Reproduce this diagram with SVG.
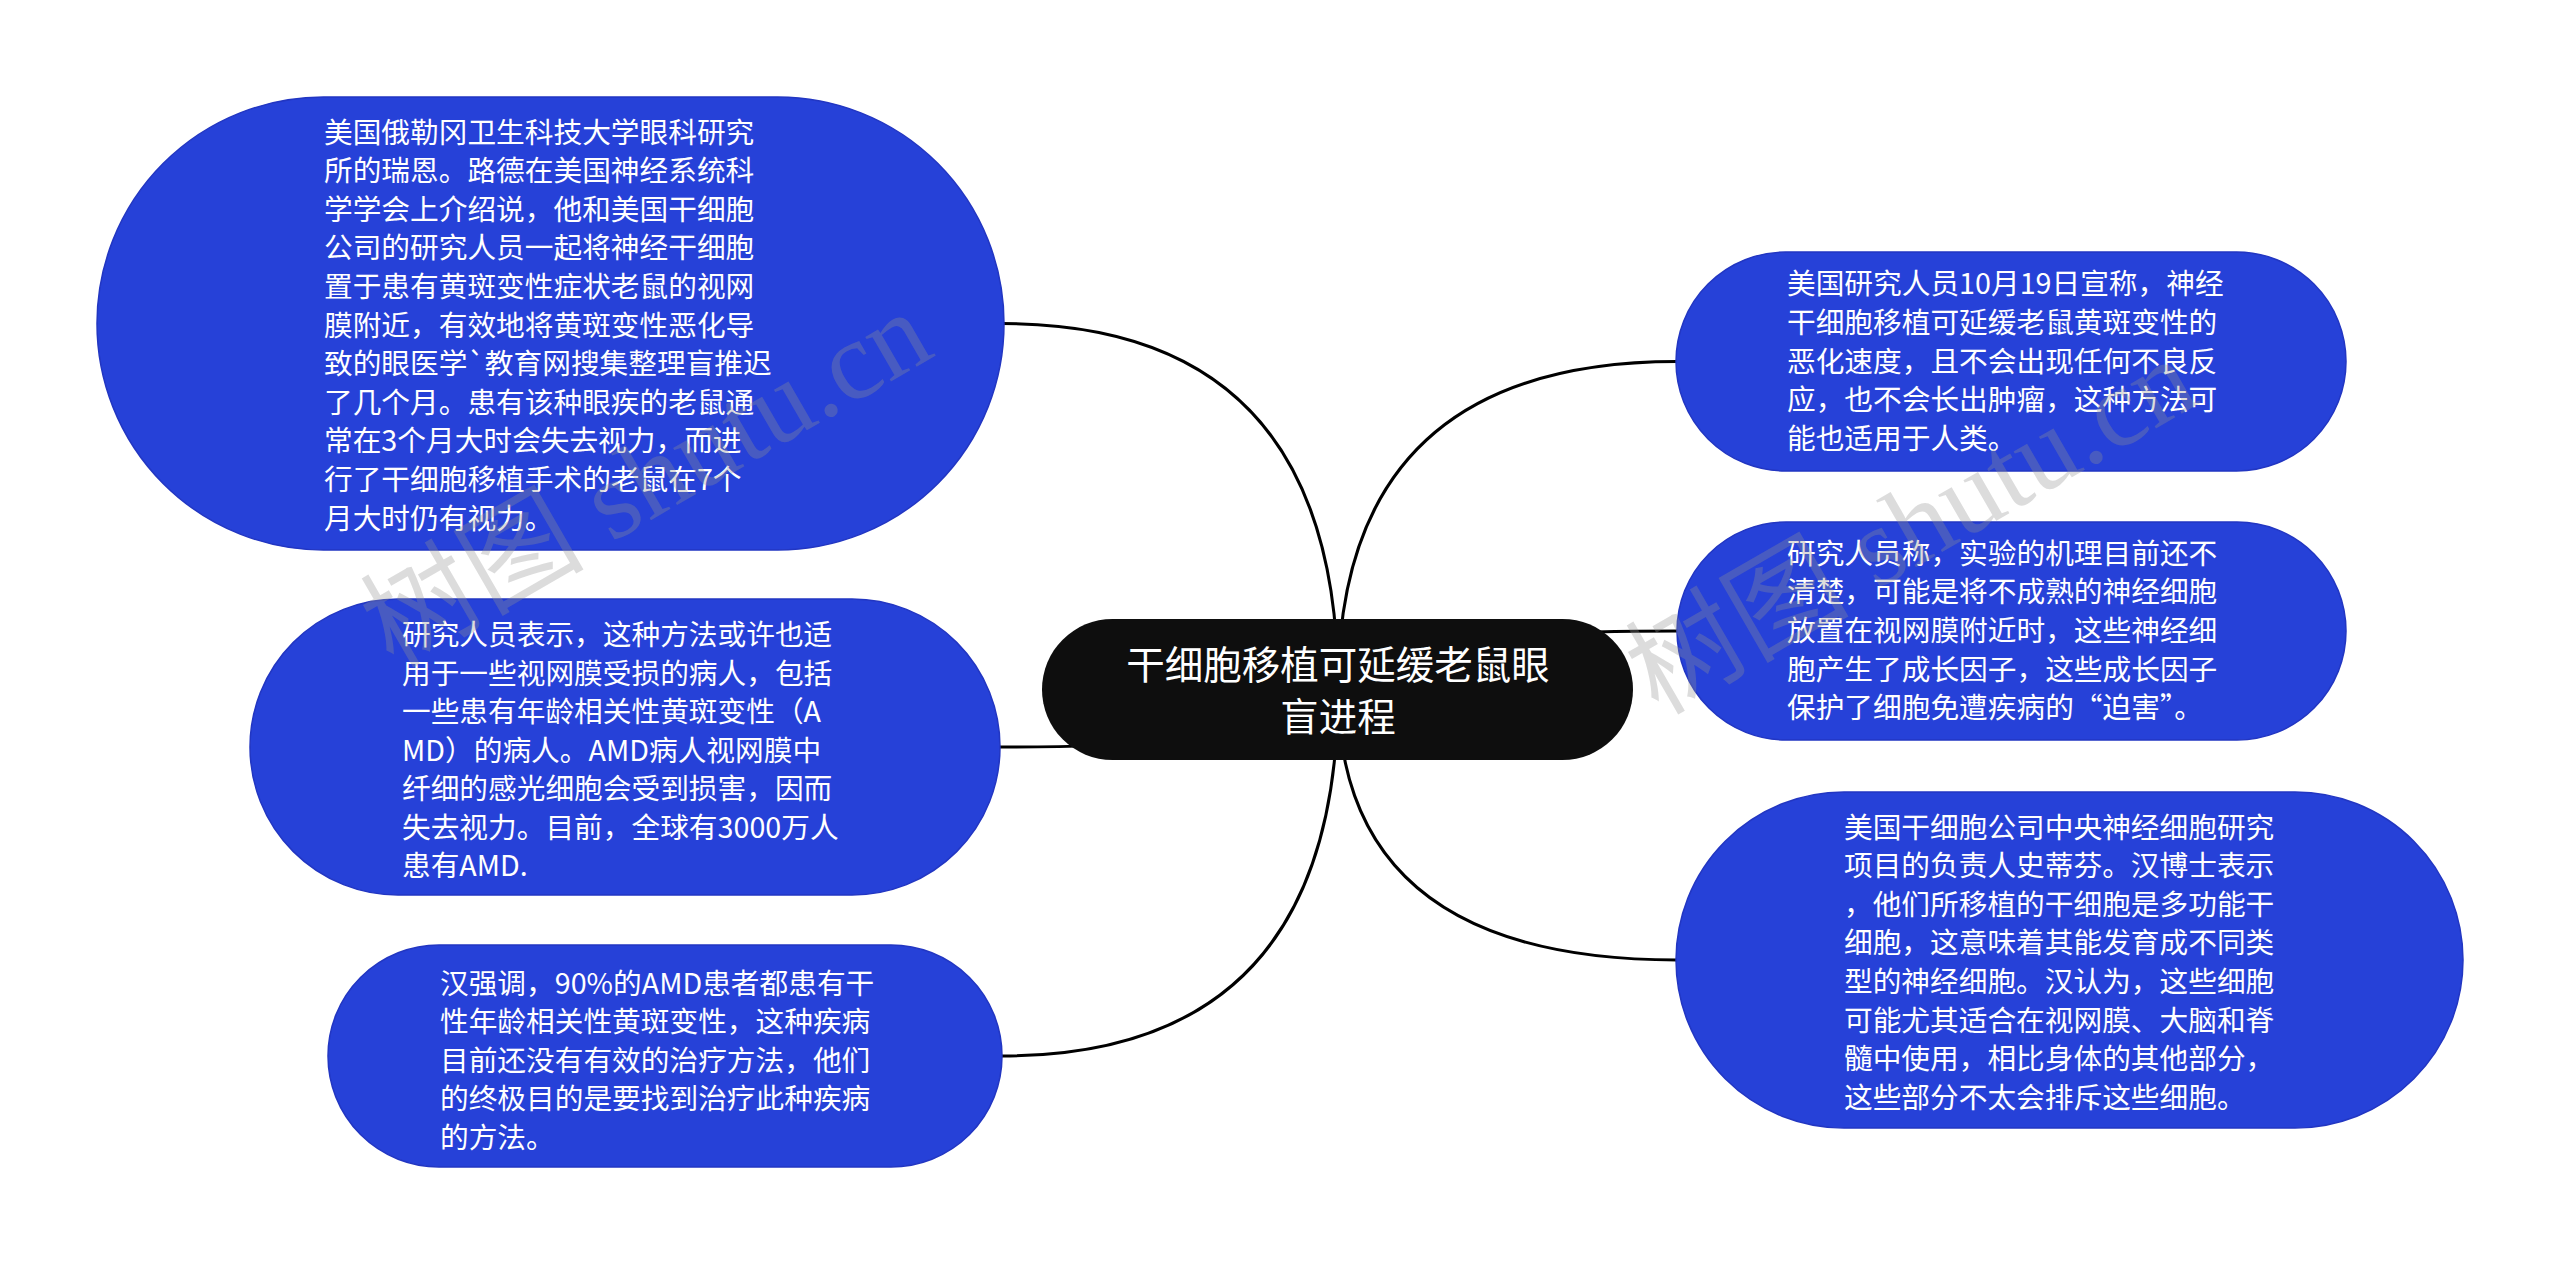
<svg xmlns="http://www.w3.org/2000/svg" width="2560" height="1264" viewBox="0 0 2560 1264">
<style>
.bg{fill:#ffffff}
.edge{fill:none;stroke:#000000;stroke-width:3}
.leaf{fill:#2641d8;stroke:#2236c2;stroke-width:1.5}
.root{fill:#0e0e0e}
.t{font-family:"Noto Sans CJK SC","Noto Sans",sans-serif;font-size:28.7px;fill:#ffffff}
.rt{font-family:"Noto Sans CJK SC","Noto Sans",sans-serif;font-size:38.5px;fill:#ffffff;text-anchor:middle}
.wm{font-family:"Liberation Serif","Noto Sans CJK SC",serif;font-size:112px;fill:#939393;fill-opacity:0.32}
</style>
<rect class="bg" x="0" y="0" width="2560" height="1264"/>
<g id="connectors">
<path class="edge" d="M1338,689 Q1338,323.5 1002,323.5"/>
<path class="edge" d="M1338,689 Q1338,747 1000,747"/>
<path class="edge" d="M1338,689 Q1338,1056 1002,1056"/>
<path class="edge" d="M1338,689 Q1338,361.5 1677,361.5"/>
<path class="edge" d="M1338,689 Q1338,631 1678,631"/>
<path class="edge" d="M1338,689 Q1338,960 1677,960"/>
</g>
<g id="root">
<rect class="root" x="1042" y="619" width="591" height="141" rx="70.5" ry="70.5"/>
<text class="rt" x="1338" y="678.5">干细胞移植可延缓老鼠眼</text>
<text class="rt" x="1338" y="730.5">盲进程</text>
</g>
<g id="node1">
<rect class="leaf" x="97" y="97" width="907" height="453" rx="226.5" ry="226.5"/>
<text class="t" x="324" y="142.5"><tspan x="324">美国俄勒冈卫生科技大学眼科研究</tspan><tspan x="324" dy="38.6">所的瑞恩。路德在美国神经系统科</tspan><tspan x="324" dy="38.6">学学会上介绍说，他和美国干细胞</tspan><tspan x="324" dy="38.6">公司的研究人员一起将神经干细胞</tspan><tspan x="324" dy="38.6">置于患有黄斑变性症状老鼠的视网</tspan><tspan x="324" dy="38.6">膜附近，有效地将黄斑变性恶化导</tspan><tspan x="324" dy="38.6">致的眼医学`教育网搜集整理盲推迟</tspan><tspan x="324" dy="38.6">了几个月。患有该种眼疾的老鼠通</tspan><tspan x="324" dy="38.6">常在3个月大时会失去视力，而进</tspan><tspan x="324" dy="38.6">行了干细胞移植手术的老鼠在7个</tspan><tspan x="324" dy="38.6">月大时仍有视力。</tspan></text>
</g>
<g id="node2">
<rect class="leaf" x="250" y="599" width="750" height="296" rx="148" ry="148"/>
<text class="t" x="402" y="645"><tspan x="402">研究人员表示，这种方法或许也适</tspan><tspan x="402" dy="38.5">用于一些视网膜受损的病人，包括</tspan><tspan x="402" dy="38.5">一些患有年龄相关性黄斑变性（A</tspan><tspan x="402" dy="38.5">MD）的病人。AMD病人视网膜中</tspan><tspan x="402" dy="38.5">纤细的感光细胞会受到损害，因而</tspan><tspan x="402" dy="38.5">失去视力。目前，全球有3000万人</tspan><tspan x="402" dy="38.5">患有AMD.</tspan></text>
</g>
<g id="node3">
<rect class="leaf" x="328" y="945" width="674" height="222" rx="111" ry="111"/>
<text class="t" x="440" y="994"><tspan x="440">汉强调，90%的AMD患者都患有干</tspan><tspan x="440" dy="38.4">性年龄相关性黄斑变性，这种疾病</tspan><tspan x="440" dy="38.4">目前还没有有效的治疗方法，他们</tspan><tspan x="440" dy="38.4">的终极目的是要找到治疗此种疾病</tspan><tspan x="440" dy="38.4">的方法。</tspan></text>
</g>
<g id="node4">
<rect class="leaf" x="1676" y="252" width="670" height="219" rx="109.5" ry="109.5"/>
<text class="t" x="1787" y="294.3"><tspan x="1787">美国研究人员10月19日宣称，神经</tspan><tspan x="1787" dy="38.6">干细胞移植可延缓老鼠黄斑变性的</tspan><tspan x="1787" dy="38.6">恶化速度，且不会出现任何不良反</tspan><tspan x="1787" dy="38.6">应，也不会长出肿瘤，这种方法可</tspan><tspan x="1787" dy="38.6">能也适用于人类。</tspan></text>
</g>
<g id="node5">
<rect class="leaf" x="1677" y="522" width="669" height="218" rx="109" ry="109"/>
<text class="t" x="1787" y="563.7"><tspan x="1787">研究人员称，实验的机理目前还不</tspan><tspan x="1787" dy="38.6">清楚，可能是将不成熟的神经细胞</tspan><tspan x="1787" dy="38.6">放置在视网膜附近时，这些神经细</tspan><tspan x="1787" dy="38.6">胞产生了成长因子，这些成长因子</tspan><tspan x="1787" dy="38.6">保护了细胞免遭疾病的“迫害”。</tspan></text>
</g>
<g id="node6">
<rect class="leaf" x="1676" y="792" width="787" height="336" rx="168" ry="168"/>
<text class="t" x="1844" y="837.5"><tspan x="1844">美国干细胞公司中央神经细胞研究</tspan><tspan x="1844" dy="38.6">项目的负责人史蒂芬。汉博士表示</tspan><tspan x="1844" dy="38.6">，他们所移植的干细胞是多功能干</tspan><tspan x="1844" dy="38.6">细胞，这意味着其能发育成不同类</tspan><tspan x="1844" dy="38.6">型的神经细胞。汉认为，这些细胞</tspan><tspan x="1844" dy="38.6">可能尤其适合在视网膜、大脑和脊</tspan><tspan x="1844" dy="38.6">髓中使用，相比身体的其他部分，</tspan><tspan x="1844" dy="38.6">这些部分不太会排斥这些细胞。</tspan></text>
</g>
<g id="watermark">
<text class="wm" transform="translate(393,669) rotate(-30)">树图 shutu.cn</text>
<text class="wm" transform="translate(1658,716) rotate(-30)">树图 shutu.cn</text>
</g>
</svg>
